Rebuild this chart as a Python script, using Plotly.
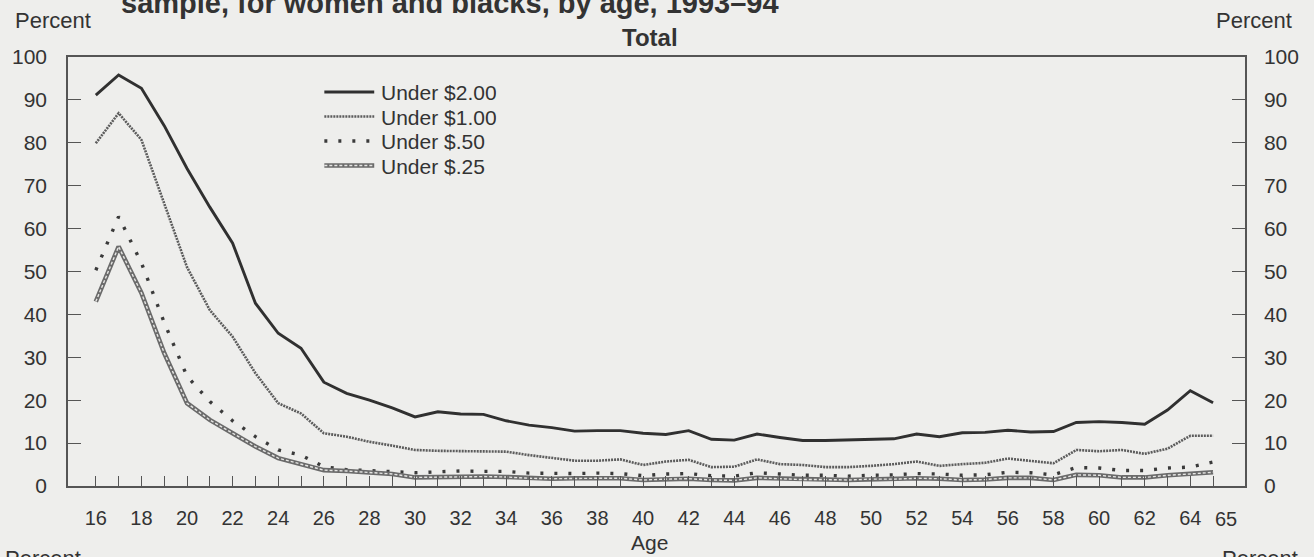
import plotly.graph_objects as go

ages = list(range(16, 66))

under_200 = [91.1, 95.8, 92.7, 84.0, 74.0, 65.0, 56.6, 42.6, 35.6, 32.1,
             24.2, 21.6, 20.0, 18.2, 16.1, 17.3, 16.8, 16.7, 15.2, 14.2,
             13.6, 12.8, 12.9, 12.9, 12.3, 12.0, 12.9, 10.9, 10.7, 12.1,
             11.3, 10.6, 10.6, 10.7, 10.9, 11.0, 12.1, 11.5, 12.4, 12.5,
             13.0, 12.6, 12.7, 14.8, 15.0, 14.8, 14.4, 17.7, 22.2, 19.4]

under_100 = [79.9, 86.9, 80.7, 66.0, 51.0, 41.0, 34.8, 26.3, 19.3, 16.9,
             12.3, 11.5, 10.3, 9.4, 8.4, 8.2, 8.1, 8.1, 8.0, 7.2,
             6.6, 5.9, 5.9, 6.2, 4.9, 5.7, 6.1, 4.4, 4.5, 6.2,
             5.1, 4.9, 4.4, 4.4, 4.7, 5.1, 5.7, 4.7, 5.1, 5.4,
             6.4, 5.8, 5.3, 8.4, 8.1, 8.4, 7.5, 8.7, 11.7, 11.7]

under_050 = [50.3, 62.8, 52.0, 38.1, 25.6, 19.7, 15.2, 11.5, 8.4, 7.2,
             4.5, 3.8, 3.6, 3.3, 3.1, 3.3, 3.5, 3.4, 3.4, 3.0,
             2.9, 2.9, 3.0, 2.9, 2.4, 2.8, 2.9, 2.4, 2.3, 3.1,
             2.8, 2.5, 2.5, 2.3, 2.5, 2.6, 2.9, 2.8, 2.5, 2.6,
             3.2, 3.1, 2.6, 4.3, 4.2, 3.6, 3.6, 4.2, 4.4, 5.6]

under_025 = [43.0, 55.8, 45.0, 31.0, 19.3, 15.4, 12.3, 9.2, 6.5, 5.1,
             3.7, 3.5, 3.2, 2.8, 2.0, 2.1, 2.2, 2.2, 2.1, 1.8,
             1.7, 1.8, 1.8, 1.8, 1.4, 1.6, 1.7, 1.4, 1.3, 1.9,
             1.7, 1.5, 1.5, 1.4, 1.6, 1.6, 1.8, 1.7, 1.4, 1.5,
             1.9, 1.9, 1.4, 2.6, 2.5, 2.0, 2.0, 2.5, 2.8, 3.2]

series_names = ["Under $2.00", "Under $1.00", "Under $.50", "Under $.25"]

# even ages labelled on the axis; the last age (65) is labelled separately, nudged right
x_tick_text = [str(a) if a % 2 == 0 else "" for a in ages]
last_age_label = str(ages[-1])
y_ticks = list(range(0, 101, 10))

FONT = "Liberation Sans, Arial, sans-serif"
INK = "#333333"
BG = "#eeeeec"
AX = "#555555"

# plot-area geometry in pixels (used only to place text/legend in paper coords)
L, R, T, B = 65, 1245, 57, 486
W, H = R - L, B - T


def px(x):
    return (x - L) / W


def py(y):
    return (B - y) / H


styles = [
    [dict(color="#303030", width=2.9)],
    [dict(color="#5c5c5c", width=2.6, dash="2px,1px")],
    [dict(color="#3a3a3a", width=3.4, dash="3px,11px")],
    [dict(color="#6a6a6a", width=4.6), dict(color="#e6e6e4", width=1.4, dash="3px,2px")],
]
data = [under_200, under_100, under_050, under_025]

fig = go.Figure()
for name, vals, st in zip(series_names, data, styles):
    for s in st:
        fig.add_trace(go.Scatter(x=ages, y=vals, name=name, mode="lines", line=s,
                                 showlegend=False))
# invisible trace to anchor right-hand axis
fig.add_trace(go.Scatter(x=[ages[0]], y=[0], yaxis="y2", showlegend=False,
                         mode="markers", marker=dict(opacity=0), hoverinfo="skip"))

fig.update_layout(
    width=1314, height=557,
    margin=dict(l=L, r=1314 - R, t=T, b=557 - B),
    paper_bgcolor=BG, plot_bgcolor=BG,
    font=dict(family=FONT, color=INK, size=20),
    showlegend=False,
    xaxis=dict(range=[14.78, 66.4], tickvals=ages, ticktext=x_tick_text, tickangle=0,
               ticks="inside", ticklen=10, tickwidth=1, tickcolor=AX,
               showline=True, linecolor=AX, linewidth=1.5, mirror=True,
               showgrid=False, zeroline=False,
               tickfont=dict(size=20, family=FONT, color=INK),
               ticklabelstandoff=13),
    yaxis=dict(range=[0, 100], tickvals=y_ticks, ticks="inside", ticklen=13,
               tickcolor=AX, tickwidth=1,
               showline=True, linecolor=AX, linewidth=1.5,
               showgrid=False, zeroline=False,
               tickfont=dict(size=21, family=FONT, color=INK), ticklabelstandoff=15),
    yaxis2=dict(range=[0, 100], tickvals=y_ticks, ticks="inside", ticklen=13,
                tickcolor=AX, tickwidth=1, overlaying="y", side="right",
                showline=True, linecolor=AX, linewidth=1.5,
                showgrid=False, zeroline=False,
                tickfont=dict(size=21, family=FONT, color=INK), ticklabelstandoff=13),
)

# custom legend (samples drawn as shapes, labels as annotations)
leg_rows = [92, 116.5, 141, 165.5]
shapes = []
ann = []
for name, st, yrow in zip(series_names, styles, leg_rows):
    for s in st:
        shapes.append(dict(type="line", xref="paper", yref="paper",
                           x0=px(322), x1=px(372), y0=py(yrow), y1=py(yrow), line=s))
    ann.append(dict(text=name, x=px(377), y=py(yrow), xanchor="left", yanchor="middle",
                    font=dict(size=21), height=22))

ann += [
    dict(text=last_age_label, xref="x", x=ages[-1], xshift=0, y=py(519),
         xanchor="left", yanchor="middle", font=dict(size=20)),
    dict(text="<b>sample, for women and blacks, by age, 1993–94</b>", x=px(116),
         y=py(21), xanchor="left", yanchor="bottom", font=dict(size=29)),
    dict(text="<b>Total</b>", x=px(648), y=py(37), xanchor="center", yanchor="middle",
         font=dict(size=24)),
    dict(text="Percent", x=px(10), y=py(21), xanchor="left", yanchor="middle",
         font=dict(size=22)),
    dict(text="Percent", x=px(1294), y=py(21), xanchor="right", yanchor="middle",
         font=dict(size=22)),
    dict(text="Age", x=px(648), y=py(529), xanchor="center", yanchor="top",
         font=dict(size=21)),
    dict(text="Percent", x=px(0), y=py(544), xanchor="left", yanchor="top",
         font=dict(size=22)),
    dict(text="Percent", x=px(1220), y=py(544), xanchor="left", yanchor="top",
         font=dict(size=22)),
]
for a in ann:
    a.setdefault("xref", "paper")
    a.update(yref="paper", showarrow=False)
    a["font"].update(family=FONT, color=INK)
fig.update_layout(annotations=ann, shapes=shapes)

fig.write_html("out.html")
